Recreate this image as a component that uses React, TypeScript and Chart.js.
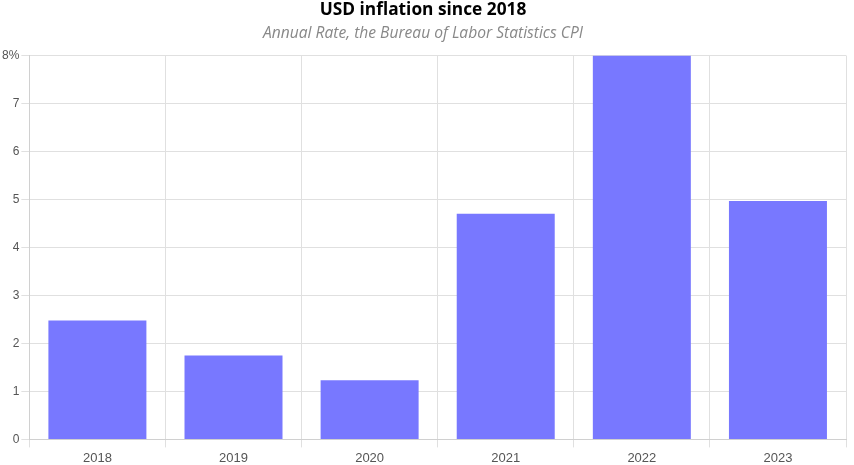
import React, { useEffect, useRef } from 'react';
import { Chart, registerables } from 'chart.js';

Chart.register(...registerables);

const years = ['2018', '2019', '2020', '2021', '2022', '2023'];
const inflationRate = [2.48, 1.75, 1.23, 4.7, 8.0, 4.97];

export default function App() {
  const canvasRef = useRef<HTMLCanvasElement>(null);
  const chartRef = useRef<Chart | null>(null);

  useEffect(() => {
    document.body.style.margin = '0';
    if (!canvasRef.current) return;
    const ctx = canvasRef.current.getContext('2d');
    if (!ctx) return;

    chartRef.current = new Chart(ctx, {
      type: 'bar',
      data: {
        labels: years,
        datasets: [
          {
            label: 'Inflation',
            data: inflationRate,
            backgroundColor: '#7878ff',
            borderWidth: 0,
          },
        ],
      },
      options: {
        animation: false,
        responsive: true,
        maintainAspectRatio: false,
        layout: { padding: { right: 8, left: 0, top: 0, bottom: -4 } },
        plugins: {
          legend: { display: false },
          tooltip: { enabled: false },
          title: {
            display: true,
            text: 'USD inflation since 2018',
            color: '#000',
            font: { family: 'Open Sans, sans-serif', size: 17.3, weight: 'bold' },
            padding: { top: 0, bottom: 3 },
          },
          subtitle: {
            display: true,
            text: 'Annual Rate, the Bureau of Labor Statistics CPI',
            color: '#888',
            font: { family: 'Open Sans, sans-serif', size: 15.6, style: 'italic' },
            padding: { top: 0, bottom: 13 },
          },
        },
        scales: {
          x: {
            grid: { color: '#e0e0e0' },
            border: { color: '#d0d0d0' },
            ticks: { color: '#555', font: { family: 'Liberation Sans, Arial, sans-serif', size: 13 } },
          },
          y: {
            min: 0,
            max: 8,
            grid: { color: '#e0e0e0' },
            border: { color: '#d0d0d0' },
            ticks: {
              stepSize: 1,
              padding: 2,
              color: '#555',
              font: { family: 'Liberation Sans, Arial, sans-serif', size: 12 },
              callback: (value: any) => (value === 8 ? value + '%' : value),
            },
          },
        },
      },
    });

    return () => {
      if (chartRef.current) {
        chartRef.current.destroy();
        chartRef.current = null;
      }
    };
  }, []);

  return (
    <div style={{ width: '854px', height: '465px', position: 'relative' }}>
      <canvas ref={canvasRef} />
    </div>
  );
}
